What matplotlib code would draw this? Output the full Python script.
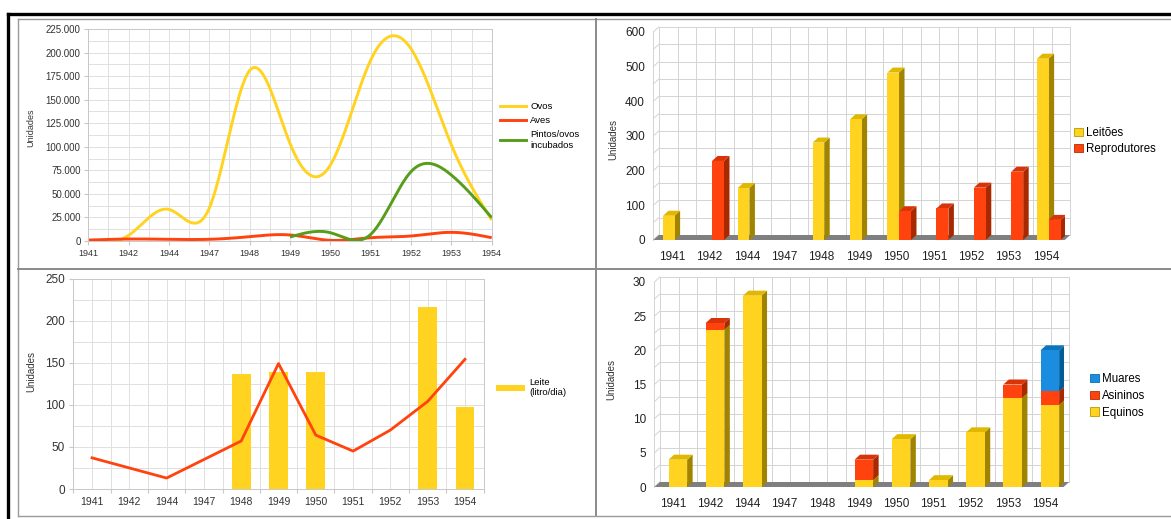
import numpy as np
import matplotlib
matplotlib.use("Agg")
import matplotlib.pyplot as plt
from matplotlib.lines import Line2D
from matplotlib.patches import Patch, Polygon, Rectangle

plt.rcParams['font.family'] = ['Liberation Sans', 'DejaVu Sans']

years = ['1941', '1942', '1944', '1947', '1948', '1949', '1950', '1951', '1952', '1953', '1954']

# aves e ovos (top left)
ovos = [0, 6000, 33500, 35000, 181000, 103500, 80500, 192000, 204000, 102000, 22300]
aves = [1000, 2100, 1800, 1800, 4600, 6400, 700, 3500, 5300, 9200, 3500]
pintos = [np.nan, np.nan, np.nan, np.nan, np.nan, 4200, 8800, 7000, 73600, 70000, 24800]

# suinos (top right)
leitoes = [70, 0, 150, 0, 281, 348, 483, 0, 0, 0, 523]
reprodutores = [0, 228, 0, 0, 0, 0, 83, 91, 151, 197, 58]

# leite (bottom left)
leite = [np.nan, np.nan, np.nan, np.nan, 137, 139, 139, np.nan, np.nan, 216, 97]
leite_linha = [37, 25, 13, 35, 57, 149, 64, 45, 70, 104, 154]

# equideos (bottom right)
equinos = [4, 23, 28, 0, 0, 1, 7, 1, 8, 13, 12]
asininos = [0, 1, 0, 0, 0, 3, 0, 0, 0, 2, 2]
muares = [0, 0, 0, 0, 0, 0, 0, 0, 0, 0, 6]

YELLOW = '#ffd320'
RED = '#ff420e'
GREEN = '#579d1c'
BLUE = '#1a8de0'
GRID = '#d4d4d4'
SHADE = {YELLOW: ('#a08400', '#e0b800'), RED: ('#a82800', '#d93408'), BLUE: ('#005c99', '#0a74bd')}

W, H = 1171, 519


def rect(l, t, r, b):
    return [l / W, 1 - b / H, (r - l) / W, (b - t) / H]


def natural_spline(x, y, n=40):
    # natural cubic spline through (x, y), like the "smooth" lines in the sheet
    x = np.asarray(x, float)
    y = np.asarray(y, float)
    k = len(x)
    h = np.diff(x)
    A = np.zeros((k, k))
    r = np.zeros(k)
    A[0, 0] = A[-1, -1] = 1
    for i in range(1, k - 1):
        A[i, i - 1] = h[i - 1]
        A[i, i] = 2 * (h[i - 1] + h[i])
        A[i, i + 1] = h[i]
        r[i] = 6 * ((y[i + 1] - y[i]) / h[i] - (y[i] - y[i - 1]) / h[i - 1])
    M = np.linalg.solve(A, r)
    xs, ys = [], []
    for i in range(k - 1):
        t = np.linspace(x[i], x[i + 1], n)
        a = x[i + 1] - t
        b = t - x[i]
        s = (M[i] * a ** 3 + M[i + 1] * b ** 3) / (6 * h[i]) \
            + (y[i] / h[i] - M[i] * h[i] / 6) * a + (y[i + 1] / h[i] - M[i + 1] * h[i] / 6) * b
        xs.append(t)
        ys.append(s)
    return np.concatenate(xs), np.concatenate(ys)


def smooth_line(ax, vals, color):
    vals = np.asarray(vals, float)
    idx = np.arange(len(vals))
    ok = ~np.isnan(vals)
    xs, ys = natural_spline(idx[ok], vals[ok])
    ax.plot(xs, ys, color=color, lw=2.1, solid_capstyle='butt')


def bar3d(ax, x0, x1, y0, y1, color, dx, dy):
    side, top = SHADE[color]
    ax.add_patch(Polygon([(x1, y0), (x1 + dx, y0 + dy), (x1 + dx, y1 + dy), (x1, y1)],
                         closed=True, fc=side, ec='none', zorder=3))
    ax.add_patch(Polygon([(x0, y1), (x1, y1), (x1 + dx, y1 + dy), (x0 + dx, y1 + dy)],
                         closed=True, fc=top, ec='none', zorder=3))
    ax.add_patch(Rectangle((x0, y0), x1 - x0, y1 - y0, fc=color, ec='none', zorder=3))


def walls3d(ax, ymax, ystep, dx, dy, n):
    # back wall, left wall and floor of the 3d bar charts
    for xv in np.arange(-0.5, n - 0.5 + 0.01, 0.5):
        ax.plot([xv + dx, xv + dx], [dy, ymax + dy], color=GRID, lw=0.7, zorder=1, clip_on=False)
    for yv in np.arange(0, ymax + 0.01, ystep):
        ax.plot([-0.5 + dx, n - 0.5 + dx], [yv + dy, yv + dy], color=GRID, lw=0.7, zorder=1, clip_on=False)
        ax.plot([-0.5, -0.5 + dx], [yv, yv + dy], color=GRID, lw=0.7, zorder=1, clip_on=False)
    ax.plot([-0.5, -0.5], [0, ymax], color=GRID, lw=0.7, zorder=1, clip_on=False)
    ax.add_patch(Polygon([(-0.5, 0), (n - 0.5, 0), (n - 0.5 + dx, dy), (-0.5 + dx, dy)],
                         closed=True, fc='#7f7f7f', ec='none', zorder=2, clip_on=False))


def style_3d(ax, ymax, ystep, fs=8.5):
    ax.set_xlim(-0.5, len(years) - 0.5)
    ax.set_ylim(0, ymax)
    for s in ax.spines.values():
        s.set_visible(False)
    ax.set_xticks(range(len(years)))
    ax.set_xticklabels(years)
    ax.set_yticks(np.arange(0, ymax + 0.01, ystep))
    ax.tick_params(length=0, labelsize=fs, colors='#222222')
    ax.tick_params(axis='x', pad=8)
    ax.tick_params(axis='y', pad=6)


fig = plt.figure(figsize=(W / 100, H / 100), dpi=100)
fig.patch.set_facecolor('white')

# page frame and cell borders
frame = [((8, 8), (14, H), 'black', 2.4), ((8, W), (14, 14), 'black', 2.4),
         ((17.5, 17.5), (19, 516), '#9a9a9a', 1.0), ((17.5, W), (19, 19), '#9a9a9a', 1.0),
         ((596, 596), (19, 516), '#8a8a8a', 1.4), ((17.5, W), (269, 269), '#8a8a8a', 1.4),
         ((17.5, W), (516, 516), '#9a9a9a', 1.0)]
for xs, ys, c, lw in frame:
    fig.add_artist(Line2D([xs[0] / W, xs[1] / W], [1 - ys[0] / H, 1 - ys[1] / H],
                          color=c, lw=lw, transform=fig.transFigure))

# ---- top left: smooth lines ----
ax1 = fig.add_axes(rect(88.3, 29, 491.7, 241))
x = np.arange(len(years))
smooth_line(ax1, ovos, YELLOW)
smooth_line(ax1, aves, RED)
smooth_line(ax1, pintos, GREEN)
ax1.set_xlim(0, len(years) - 1)
ax1.set_ylim(0, 225000)
ax1.set_xticks(x)
ax1.set_xticklabels(years)
ax1.set_xticks(np.arange(0.5, 10, 1), minor=True)
yt = np.arange(0, 225001, 25000)
ax1.set_yticks(yt)
ax1.set_yticklabels(['{:,}'.format(v).replace(',', '.') for v in yt])
ax1.set_yticks(np.arange(12500, 225000, 25000), minor=True)
ax1.grid(True, which='both', color='#e0e0e0', lw=0.7)
ax1.set_axisbelow(True)
for s in ax1.spines.values():
    s.set_color('#c8c8c8')
    s.set_linewidth(0.7)
ax1.tick_params(which='both', length=3, color='#c8c8c8', colors='#333333')
ax1.tick_params(which='minor', length=0)
ax1.tick_params(axis='x', labelsize=6.5, pad=3)
ax1.tick_params(axis='y', labelsize=7, pad=2.5)
ax1.legend([Line2D([], [], color=YELLOW, lw=2.1), Line2D([], [], color=RED, lw=2.1),
            Line2D([], [], color=GREEN, lw=2.1)],
           ['Ovos', 'Aves', 'Pintos/ovos\nincubados'],
           loc='upper left', bbox_to_anchor=(500 / W, 1 - 102 / H), bbox_transform=fig.transFigure,
           frameon=False, fontsize=6.8, handlelength=2.8, handletextpad=0.4,
           labelspacing=0.55, borderpad=0, borderaxespad=0)
fig.text(31 / W, 1 - 128 / H, 'Unidades', rotation=90, fontsize=6.5, color='#333333',
         ha='center', va='center')

# ---- top right: 3d bars, suinos ----
ax2 = fig.add_axes(rect(653.3, 32, 1064.7, 240))
style_3d(ax2, 600, 100)
dx2 = 5.5 / 37.4
dy2 = 5 * 600 / 208
walls3d(ax2, 600, 50, dx2, dy2, len(years))
for i in range(len(years)):
    if leitoes[i] > 0:
        bar3d(ax2, i - 0.24, i + 0.07, 0, leitoes[i], YELLOW, dx2, dy2)
    if reprodutores[i] > 0:
        bar3d(ax2, i + 0.07, i + 0.39, 0, reprodutores[i], RED, dx2, dy2)
ax2.legend([Patch(fc=YELLOW, ec='#b89a00', lw=0.6), Patch(fc=RED, ec='#b03000', lw=0.6)],
           ['Leitões', 'Reprodutores'],
           loc='upper left', bbox_to_anchor=(1074 / W, 1 - 127 / H), bbox_transform=fig.transFigure,
           frameon=False, fontsize=8.3, handlelength=0.75, handleheight=0.75, handletextpad=0.3,
           labelspacing=0.35, borderpad=0, borderaxespad=0)
fig.text(613 / W, 1 - 140 / H, 'Unidades', rotation=90, fontsize=7, color='#333333',
         ha='center', va='center')

# ---- bottom left: leite ----
ax3 = fig.add_axes(rect(73.4, 278.5, 483.6, 489))
ax3.bar(x, np.nan_to_num(leite), width=0.5, color=YELLOW, zorder=2)
ax3.plot(x, leite_linha, color=RED, lw=2, zorder=3)
ax3.set_xlim(-0.5, len(years) - 0.5)
ax3.set_ylim(0, 250)
ax3.set_xticks(np.arange(-0.5, len(years), 1))
ax3.set_xticklabels([])
ax3.set_xticks(x, minor=True)
ax3.set_xticklabels(years, minor=True)
ax3.set_yticks(np.arange(0, 251, 50))
ax3.set_yticks(np.arange(25, 250, 50), minor=True)
ax3.grid(True, which='both', color='#e0e0e0', lw=0.7)
ax3.set_axisbelow(True)
for s in ax3.spines.values():
    s.set_color('#c8c8c8')
    s.set_linewidth(0.7)
ax3.tick_params(which='both', length=3, color='#c8c8c8', colors='#333333', labelsize=7.5)
ax3.tick_params(axis='x', which='minor', length=0, pad=6)
ax3.tick_params(axis='y', which='minor', length=0)
ax3.tick_params(axis='y', labelsize=8.5, pad=3)
ax3.legend([Patch(fc=YELLOW, ec='none')], ['Leite\n(litro/dia)'],
           loc='upper left', bbox_to_anchor=(496 / W, 1 - 378 / H), bbox_transform=fig.transFigure,
           frameon=False, fontsize=6.8, handlelength=3.1, handleheight=0.7, handletextpad=0.4,
           borderpad=0, borderaxespad=0)
fig.text(31 / W, 1 - 372 / H, 'Unidades', rotation=90, fontsize=7, color='#333333',
         ha='center', va='center')

# ---- bottom right: 3d stacked bars, equideos ----
ax4 = fig.add_axes(rect(654.4, 282, 1063.6, 487))
style_3d(ax4, 30, 5)
dx4 = 5.5 / 37.2
dy4 = 5 * 30 / 205
walls3d(ax4, 30, 2.5, dx4, dy4, len(years))
for i in range(len(years)):
    base = 0
    for vals, col in ((equinos, YELLOW), (asininos, RED), (muares, BLUE)):
        if vals[i] > 0:
            bar3d(ax4, i - 0.12, i + 0.38, base, base + vals[i], col, dx4, dy4)
            base += vals[i]
ax4.legend([Patch(fc=BLUE, ec='#0a6cb0', lw=0.6), Patch(fc=RED, ec='#b03000', lw=0.6),
            Patch(fc=YELLOW, ec='#b89a00', lw=0.6)],
           ['Muares', 'Asininos', 'Equinos'],
           loc='upper left', bbox_to_anchor=(1090 / W, 1 - 373 / H), bbox_transform=fig.transFigure,
           frameon=False, fontsize=8.3, handlelength=0.75, handleheight=0.75, handletextpad=0.3,
           labelspacing=0.42, borderpad=0, borderaxespad=0)
fig.text(611 / W, 1 - 380 / H, 'Unidades', rotation=90, fontsize=7, color='#333333',
         ha='center', va='center')

fig.savefig('out.png', dpi=100)
